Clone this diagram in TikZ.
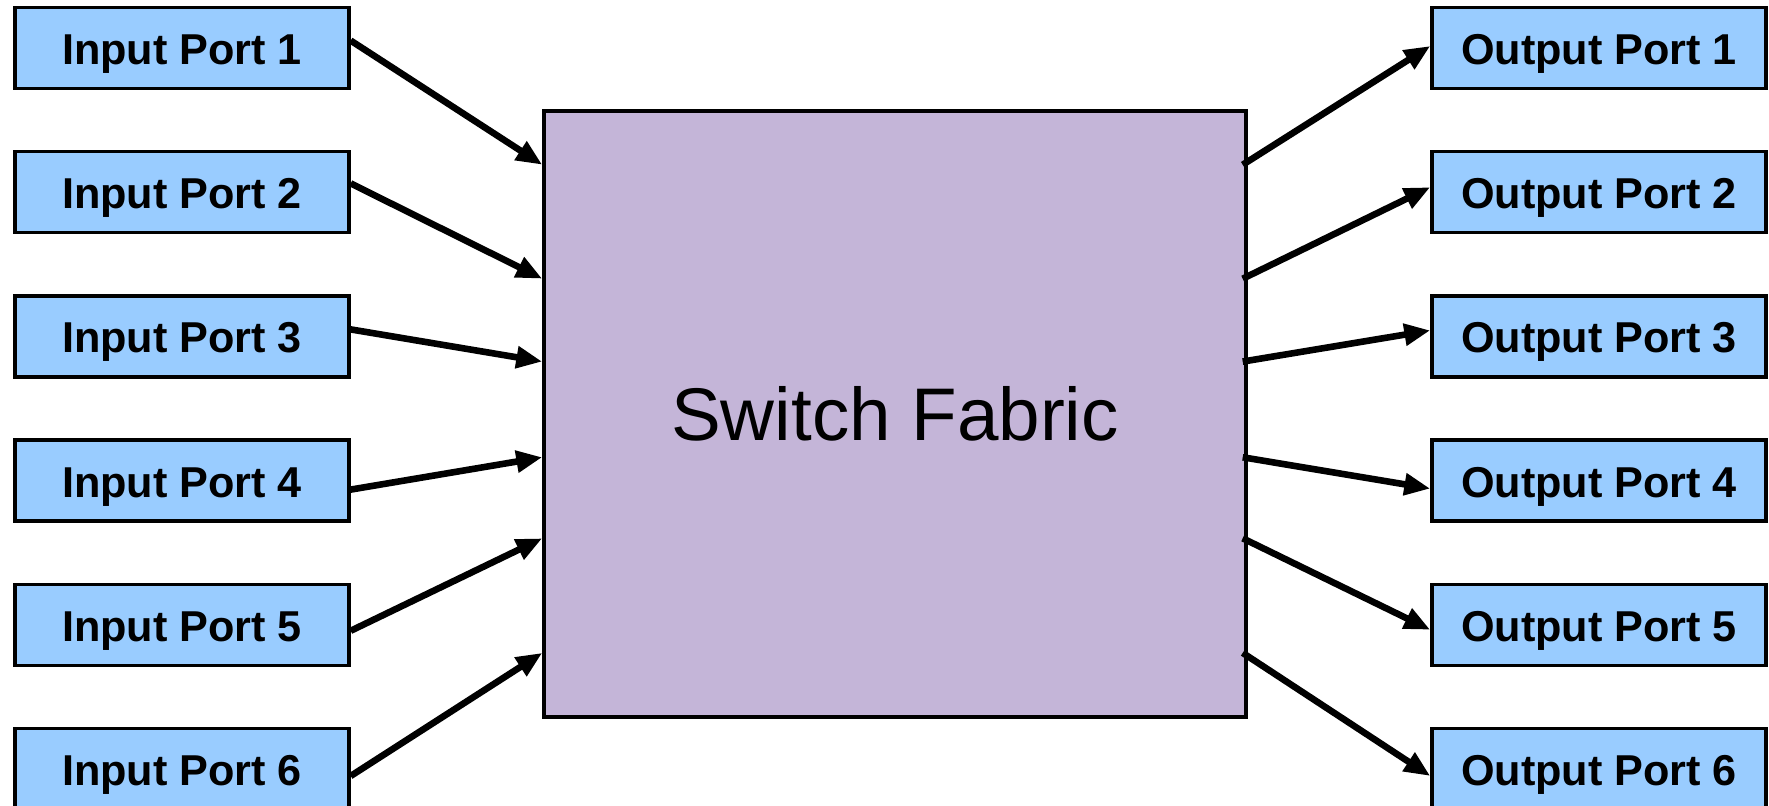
\documentclass[tikz,border=0pt]{standalone}
\usepackage{fontspec}
\setmainfont{Liberation Sans}
\usetikzlibrary{arrows.meta,calc}
\definecolor{portblue}{HTML}{99CCFF}
\definecolor{fabriclilac}{HTML}{C4B5D8}

\begin{document}
\begin{tikzpicture}[x=0.5pt,y=-0.5pt,
		port/.style={draw,line width=1.7pt,fill=portblue,minimum width=167pt,minimum height=40.5pt,inner sep=0pt,text height=16.5pt,text depth=0pt,font=\fontsize{21.6}{25}\selectfont\bfseries},
		link/.style={line width=3.3pt,-{Triangle[length=13pt,width=10.5pt]}}]
			\useasboundingbox (0,0) rectangle (1769,806);
			\node[draw,line width=1.7pt,fill=fabriclilac,minimum width=351pt,minimum height=303pt,inner sep=0pt,font=\fontsize{37.3}{44}\selectfont] (fab) at (895,414) {Switch Fabric};
			\foreach \i/\y in {1/48,2/192.2,3/336.4,4/480.6,5/624.8,6/769}{
				\node[port] (in\i) at (182,\y) {Input Port \i};
				\node[port] (out\i) at (1599,\y) {Output Port \i};
			}
			\foreach \i/\f/\a/\b in {1/0.091/3.7/1,2/0.278/4.4/2.5,3/0.414/3.5/3,4/0.571/-4.5/-4,5/0.704/-3/-2.5,6/0.892/-3.5/-3.5}{
				\coordinate (l\i) at ($(fab.north west)!\f!(fab.south west)$);
				\coordinate (r\i) at ($(fab.north east)!\f!(fab.south east)$);
				\draw[link] ([yshift=\a pt]in\i.east) -- (l\i);
				\draw[link] ([xshift=-2.5pt]r\i) -- ([yshift=\b pt]out\i.west);
			}
		\end{tikzpicture}
\end{document}
